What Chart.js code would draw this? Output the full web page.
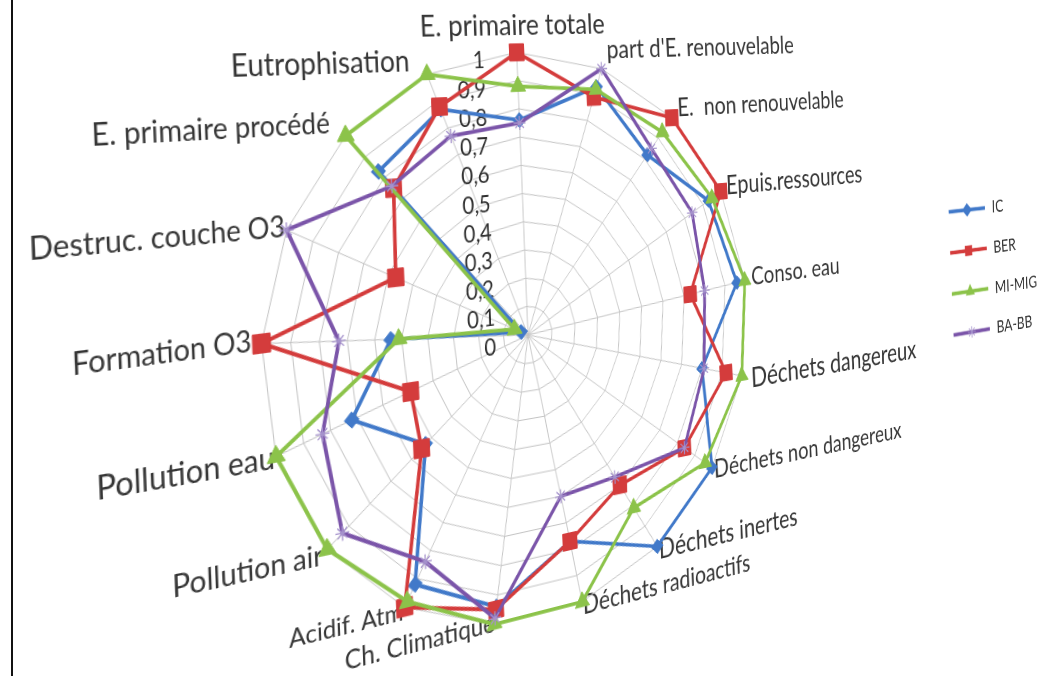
<!DOCTYPE html>
<html>
<head>
<meta charset="utf-8">
<title>Indicateurs environnementaux normalisés</title>
<script src="https://cdn.jsdelivr.net/npm/chart.js@4/dist/chart.umd.min.js"></script>
<style>
  html, body { margin: 0; padding: 0; background: #fff; overflow: hidden; }
  #frame { position: absolute; left: 0; top: 0; width: 1053px; height: 676px; overflow: hidden; background: #fff; }
  #wrap { position: absolute; left: 0; top: 0; width: 1400px; height: 700px; }
  #rule { position: absolute; left: 11px; top: 0; width: 2px; height: 676px; background: #111; }
</style>
</head>
<body>
<div id="frame">
  <div id="wrap"><canvas id="radar" width="1400" height="700" style="width:1400px;height:700px"></canvas></div>
  <div id="rule"></div>
</div>
<script>
// Axes of the web, clockwise from the top
const categories = [
  'E. primaire totale', "part d'E. renouvelable", 'E.  non renouvelable', 'Epuis.ressources',
  'Conso. eau', 'Déchets dangereux', 'Déchets non dangereux', 'Déchets inertes',
  'Déchets radioactifs', 'Ch. Climatique', 'Acidif. Atm', 'Pollution air',
  'Pollution eau', 'Formation O3', 'Destruc. couche O3', 'E. primaire procédé', 'Eutrophisation'
];

const seriesNames = ['IC', 'BER', 'MI-MIG', 'BA-BB'];

// Normalised scores (1 = highest of the four scenarios on that indicator)
const icValues     = [0.76, 0.93, 0.82, 0.93, 0.96, 0.80, 1.00, 1.00, 0.77, 0.94, 0.92, 0.53, 0.72, 0.54, 0.03, 0.83, 0.87];
const berValues    = [1.00, 0.89, 1.00, 1.00, 0.73, 0.92, 0.84, 0.70, 0.77, 0.95, 1.00, 0.55, 0.49, 1.00, 0.57, 0.75, 0.88];
const miMigValues  = [0.88, 0.92, 0.93, 0.95, 1.00, 1.00, 0.96, 0.81, 1.00, 1.00, 0.98, 1.00, 1.00, 0.51, 0.06, 1.00, 1.00];
const baBbValues   = [0.75, 1.00, 0.85, 0.84, 0.80, 0.81, 0.84, 0.66, 0.60, 0.98, 0.84, 0.93, 0.83, 0.73, 1.00, 0.76, 0.77];

const tickValues = [0, 0.1, 0.2, 0.3, 0.4, 0.5, 0.6, 0.7, 0.8, 0.9, 1];

// ---- styling ----
const FONT = 'Lato, "Open Sans", "DejaVu Sans", sans-serif';
const TEXT = '#363636';
const GRID = '#c4c4c4';
const seriesStyles = [
  { color: '#4179c9', point: 'rectRot',  radius: 7.5, border: '#4179c9', borderW: 1,   order: 4 },
  { color: '#d43c3c', point: 'rect',     radius: 12,  border: '#d43c3c', borderW: 1,   order: 3 },
  { color: '#8cc34a', point: 'triangle', radius: 10,  border: '#8cc34a', borderW: 1,   order: 2 },
  { color: '#7b55a9', point: 'star',     radius: 7,   border: '#a592cc', borderW: 1.3, order: 1 }
];
const pointLabelFontPx = [29, 27, 27, 28, 27, 30, 27, 28, 26, 25, 24, 27, 28, 26, 26, 26, 28];
const pointLabelGap    = [12, 6, -2, -5, -4, 0, -10, -10, -10, -16, -10, -8, -12, -4, -12, 0, -2];
const pointLabelTrail  = [0, 0, 0, 0, 0, 0, 0, 0, 0, 0, 0, 0, 0, 0, 0, 1, 2];   // extra spaces after the text
const TICK_PX = 23;
const TICK_GAP = 37;       // room between a tick label and the upright spoke

// The finished canvas is viewed at an angle: squeezed, sheared and in perspective.
const VIS_CX = 528, VIS_CY = 335;      // where the hub of the web lands on the page
const SQUEEZE = 0.85, SHEAR_Y = -0.12, SHEAR_X = 0.04, DEPTH = 0.00035;

// page position -> offset from the hub in canvas pixels (inverse of the view transform)
function pageToCanvas(X, Y) {
  const dx = X - VIS_CX, dy = Y - VIS_CY;
  const q = dx - SHEAR_X * dy;
  const u = q / (SQUEEZE - SHEAR_X * SHEAR_Y - DEPTH * q);
  const v = dy * (1 + DEPTH * u) - SHEAR_Y * u;
  return { u, v };
}
const LEGEND_FONT = 22;
const legendFirst = pageToCanvas(948, 212);
const legendLast = pageToCanvas(948, 336);
const LEGEND_GAP = (legendLast.v - legendFirst.v) / 3 - LEGEND_FONT;

Chart.defaults.font.family = FONT;
Chart.defaults.color = TEXT;

// tick labels sit just left of the upright spoke: pad them with trailing spaces
const measureCtx = document.createElement('canvas').getContext('2d');
measureCtx.font = TICK_PX + 'px ' + FONT;
const spaceW = measureCtx.measureText(' ').width || 4.5;
function tickText(v) {
  let s;
  if (v <= 0.0001) s = '0';
  else if (v >= 0.9999) s = '1';
  else s = v.toFixed(1).replace('.', ',');
  const w = measureCtx.measureText(s).width;
  const n = Math.max(0, Math.round((w + 2 * TICK_GAP) / spaceW));
  return ['', s + ' '.repeat(n)];
}

// legend swatches: a short line with the series marker in the middle
const SWATCH_W = 66;
function legendIcon(st) {
  const c = document.createElement('canvas');
  c.width = SWATCH_W; c.height = 26;
  const g = c.getContext('2d');
  g.strokeStyle = st.color; g.lineWidth = 4.5;
  g.beginPath(); g.moveTo(1, 13); g.lineTo(SWATCH_W - 1, 13); g.stroke();
  g.fillStyle = st.color; g.strokeStyle = st.border; g.lineWidth = 1.2;
  if (Chart.helpers && Chart.helpers.drawPoint) {
    Chart.helpers.drawPoint(g, { pointStyle: st.point, radius: Math.min(st.radius, 8), borderWidth: 1.2, rotation: 0 }, SWATCH_W / 2, 13);
  }
  return c;
}
const legendIcons = seriesStyles.map(legendIcon);

const valueSets = [icValues, berValues, miMigValues, baBbValues];
const datasets = seriesNames.map((name, i) => {
  const st = seriesStyles[i];
  return {
    label: name,
    data: valueSets[i],
    order: st.order,
    fill: false,
    borderColor: st.color,
    backgroundColor: st.color,
    borderWidth: 3.8,
    pointStyle: st.point,
    pointRadius: st.radius,
    pointHoverRadius: st.radius,
    pointBackgroundColor: st.color,
    pointBorderColor: st.border,
    pointBorderWidth: st.borderW
  };
});

// keeps the legend box to the right of the web without taking room from it
const legendPlacement = {
  id: 'legendPlacement',
  beforeDraw(chart) {
    const lg = chart.legend, rs = chart.scales.r;
    if (!lg || !rs) return;
    lg.left = rs.xCenter + legendFirst.u - LEGEND_GAP;
    lg.top = rs.yCenter + legendFirst.v - LEGEND_GAP - LEGEND_FONT / 2;
    lg.right = chart.width;
    lg.bottom = lg.top + 330;
  }
};

const chart = new Chart(document.getElementById('radar'), {
  type: 'radar',
  data: { labels: categories, datasets },
  plugins: [legendPlacement],
  options: {
    responsive: false,
    animation: false,
    devicePixelRatio: 1,
    layout: { padding: { left: 0, right: 200, top: 20, bottom: 57 } },
    elements: { line: { tension: 0 } },
    plugins: {
      tooltip: { enabled: false },
      legend: {
        position: 'chartArea',
        align: 'start',
        labels: {
          usePointStyle: true,
          pointStyleWidth: SWATCH_W,
          padding: LEGEND_GAP,
          color: TEXT,
          font: { size: LEGEND_FONT, family: FONT },
          sort: (a, b) => a.datasetIndex - b.datasetIndex,
          generateLabels(ch) {
            const items = Chart.defaults.plugins.legend.labels.generateLabels(ch);
            items.forEach(it => { it.pointStyle = legendIcons[it.datasetIndex]; });
            return items;
          }
        }
      }
    },
    scales: {
      r: {
        min: -0.001,
        max: 1,
        afterBuildTicks(scale) {
          scale.ticks = tickValues.map(v => ({ value: v === 0 ? -0.001 : v }));
        },
        grid: { circular: false, color: GRID, lineWidth: 1 },
        angleLines: { display: true, color: GRID, lineWidth: 1 },
        ticks: {
          stepSize: 0.1,
          showLabelBackdrop: false,
          color: '#2f2f2f',
          font: { size: TICK_PX, family: FONT, lineHeight: 0.33 },
          callback: (v) => tickText(v)
        },
        pointLabels: {
          color: TEXT,
          callback: (label, i) => label + ' '.repeat(pointLabelTrail[i] || 0),
          padding: (ctx) => pointLabelGap[ctx.index],
          // a very small line height keeps each label vertically centred on its anchor
          font: (ctx) => ({ size: pointLabelFontPx[ctx.index], family: FONT, lineHeight: 0.1 })
        }
      }
    }
  }
});

// place the hub and apply the viewing transform around it
(function applyView() {
  const rs = chart.scales.r;
  const wrap = document.getElementById('wrap');
  wrap.style.transformOrigin = rs.xCenter + 'px ' + rs.yCenter + 'px';
  wrap.style.transform =
    'translate(' + (VIS_CX - rs.xCenter) + 'px,' + (VIS_CY - rs.yCenter) + 'px) ' +
    'matrix3d(' + [SQUEEZE, SHEAR_Y, 0, DEPTH, SHEAR_X, 1, 0, 0, 0, 0, 1, 0, 0, 0, 0, 1].join(',') + ')';
})();
</script>
</body>
</html>
